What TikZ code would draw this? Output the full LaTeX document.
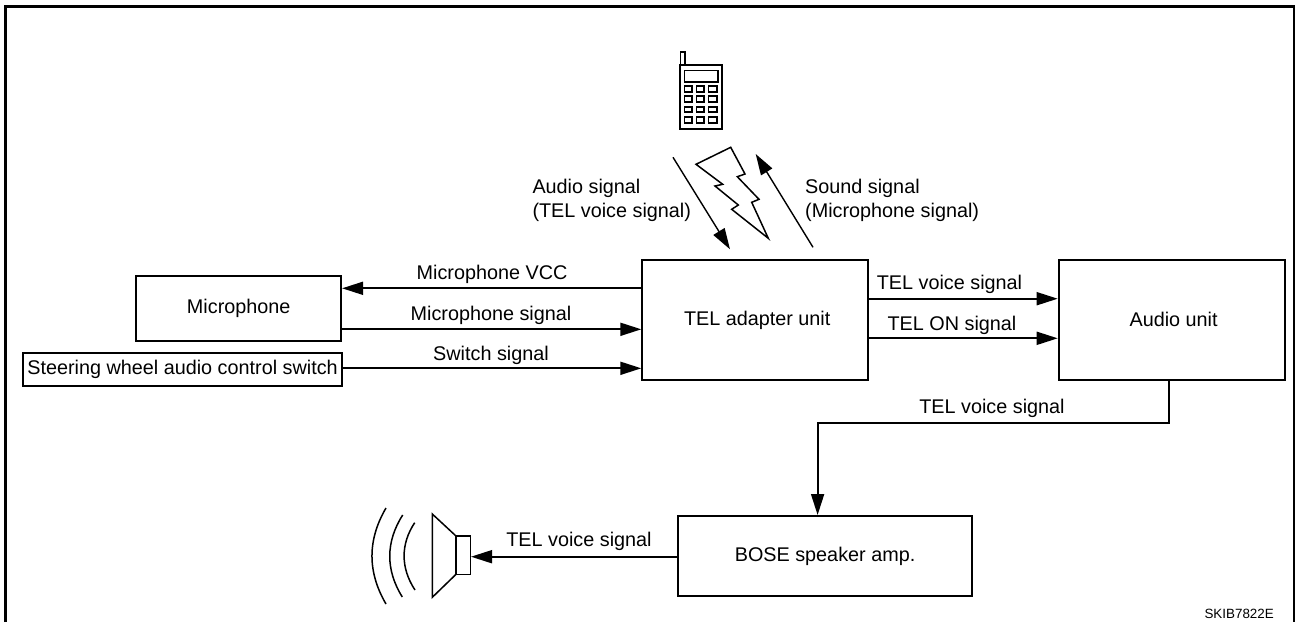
\documentclass[tikz,border=0pt]{standalone}
\usepackage{fontspec}
\setmainfont{Liberation Sans}
\usetikzlibrary{arrows.meta}
\newcommand\lowered[1]{\raisebox{-1.8pt}{#1}}
\tikzset{
 box/.style={draw,line width=1.8pt,inner sep=0pt,anchor=north west},
 sig/.style={line width=1.8pt,-{Triangle[length=21pt,width=13pt]}},
 lbl/.style={inner sep=0pt,anchor=base},
 thin part/.style={line width=1.5pt},
 frame/.style={line width=3pt},
 edge line/.style={line width=2pt},
}
\begin{document}
\begin{tikzpicture}[x=1pt,y=-1pt,font=\fontsize{19.8}{24}\selectfont]
\useasboundingbox (0,0) rectangle (1295,622);
\draw[frame] (5.5,622) -- (5.5,6.5) -- (1295,6.5);
\draw[edge line] (1294,5) -- (1294,622);
% boxes
\node[box,minimum width=205pt,minimum height=64.7pt] (mic) at (135.3,275.3) {\raisebox{-3.6pt}{Microphone}};
\node[box,minimum width=319.3pt,minimum height=32.7pt] (sw) at (22,352) {\raisebox{-1.6pt}{Steering wheel audio control switch}};
\node[box,minimum width=226pt,minimum height=120pt] (tel) at (641.3,259) {\hspace*{4pt}\lowered{TEL adapter unit}};
\node[box,minimum width=226pt,minimum height=120pt] (aud) at (1057.7,259) {\hspace*{4pt}\lowered{Audio unit}};
\node[box,minimum width=294.3pt,minimum height=80.3pt] (bose) at (677,515) {\raisebox{-2.6pt}{BOSE speaker amp.}};
% connectors
\draw[sig] (tel.west |- 0,288.3) -- (mic.east |- 0,288.3);
\draw[sig] (mic.east |- 0,329.3) -- (tel.west |- 0,329.3);
\draw[sig] (sw.east |- 0,368.3) -- (tel.west |- 0,368.3);
\draw[sig] (tel.east |- 0,298.7) -- (aud.west |- 0,298.7);
\draw[sig] (tel.east |- 0,338.3) -- (aud.west |- 0,338.3);
\draw[sig] (aud.south -| 1169.3,0) |- (817.6,423.3) -- (bose.north -| 817.6,0);
% labels
\node[lbl] (l1) at (492,279.5) {Microphone VCC};
\node[lbl] (l2) at (491,320) {Microphone signal};
\node[lbl] (l3) at (491,360) {Switch signal};
\node[lbl] (l4) at (949.5,289.3) {TEL voice signal};
\node[lbl] (l5) at (952,330.7) {TEL ON signal};
\node[lbl] (l6) at (992,413.3) {TEL voice signal};
\node[lbl] (l7) at (579,546) {TEL voice signal};
\node[lbl,anchor=base west] (l8) at (532.3,193.3) {Audio signal};
\node[lbl,anchor=base west] (l9) at (532.3,217.7) {(TEL voice signal)};
\node[lbl,anchor=base west] (l10) at (805,193.3) {Sound signal};
\node[lbl,anchor=base west] (l11) at (805,217.7) {(Microphone signal)};
\node[lbl,anchor=base east,font=\fontsize{13.4}{16}\selectfont] (code) at (1274,618) {SKIB7822E};
% radio arrows
\coordinate (a1) at (673,157.3); \coordinate (a2) at (730,249.3);
\coordinate (b1) at (813,247.3); \coordinate (b2) at (755.7,154);
\draw[sig,line width=1.4pt] (a1) -- (a2);
\draw[sig,line width=1.4pt] (b1) -- (b2);
% lightning
\draw[thin part,line join=miter] (730.7,147.3) -- (696,164.3) -- (722.7,184.3) -- (715,186) -- (738.3,205) -- (731.7,209.3) -- (768.3,238.3) -- (751.7,202.3) -- (759,199.3) -- (737.3,176.7) -- (745,174) -- cycle;
% phone
\draw[thin part] (680,65) rectangle (722,129);
\draw[thin part] (680.5,65) -- (680.5,52) -- (685,52) -- (685,65);
\draw[thin part] (684.5,70.5) rectangle (718,82);
\foreach \yy/\yb in {86/92,96/102,107/112,117/123}
  \foreach \xx/\xb in {684.5/692,696.5/704,708.5/717}
    \draw[thin part] (\xx,\yy) rectangle (\xb,\yb);
% speaker
\draw[thin part] (432.3,514) -- (456,536) -- (456,574.3) -- (432.3,597.3) -- cycle;
\draw[thin part] (456,536) rectangle (470.7,574.3);
\draw[sig] (bose.west |- 0,556.7) -- (471,556.7);
\draw[thin part] (386,508) .. controls (367.3,540) and (367.3,572) .. (386,604);
\draw[thin part] (402.7,515) .. controls (385.5,542) and (385.5,570) .. (402.3,597);
\draw[thin part] (414.7,522.7) .. controls (400.5,544) and (400.5,568) .. (415,590);
\end{tikzpicture}
\end{document}
